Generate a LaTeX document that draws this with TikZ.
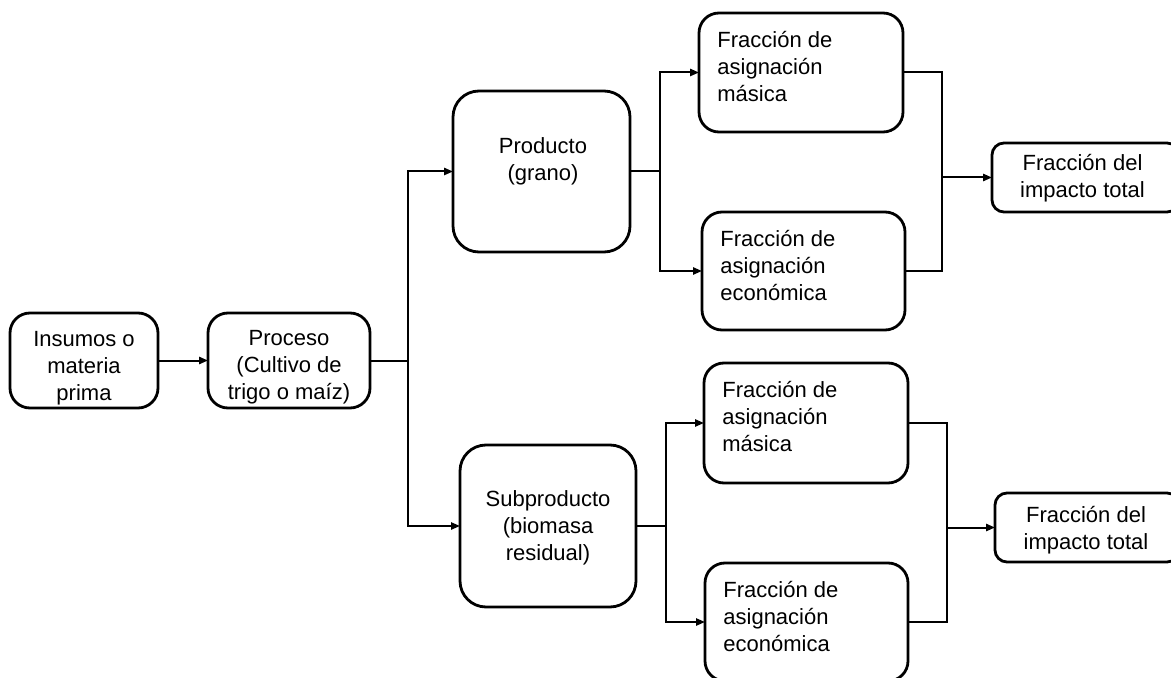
\documentclass[tikz,border=0pt]{standalone}
\usepackage{fontspec}
\setmainfont{Liberation Sans}
\usetikzlibrary{arrows.meta}
\begin{document}
\begin{tikzpicture}[x=0.5pt,y=-0.5pt,
  box/.style={draw,line width=1.4pt,rounded corners=#1,inner sep=0pt,outer sep=0pt,
    font=\fontsize{11}{13.5}\selectfont,align=center},
  box/.default=10pt,
  ltxt/.style={font=\fontsize{11}{13.5}\selectfont,align=left,inner sep=0pt,anchor=north west},
  ctxt/.style={font=\fontsize{11}{13.5}\selectfont,align=center,inner sep=0pt},
  link/.style={line width=1pt},
  arr/.style={link,-{Triangle[length=4.5pt,width=3.6pt]}}]
\useasboundingbox (0,0) rectangle (1171,678);

% main chain
\node[box, minimum width=74pt, minimum height=47.5pt] (ins) at (84,360.5) {};
\node[ctxt] (instxt) at (84,368) {Insumos o\\materia\\prima};
\node[box, minimum width=81pt, minimum height=47.5pt] (proc) at (289,360.5) {};
\node[ctxt] (proctxt) at (289,367) {Proceso\\(Cultivo de\\trigo o maíz)};

% product and by-product
\node[box=13pt, minimum width=88.5pt, minimum height=80.5pt] (prod) at (541.5,171.5) {};
\node[ctxt] (prodtxt) at (543,161) {Producto\\(grano)};
\node[box=13pt, minimum width=88pt, minimum height=81pt] (sub) at (548,526) {};
\node[ctxt] (subtxt) at (548,528) {Subproducto\\(biomasa\\residual)};

% allocation fractions
\newcommand{\fracfirst}{\rule{0pt}{9.5pt}Fracción de}
\node[box, minimum width=102pt, minimum height=59.5pt] (m1) at (801,72.5) {};
\node[box, minimum width=101.5pt, minimum height=59pt] (e1) at (803.5,271) {};
\node[box, minimum width=102pt, minimum height=60pt] (m2) at (806,423) {};
\node[box, minimum width=101.5pt, minimum height=59pt] (e2) at (806.5,622) {};
\node[ltxt] (m1txt) at ([xshift=9pt,yshift=-7.5pt]m1.north west) {\fracfirst\\asignación\\másica};
\node[ltxt] (e1txt) at ([xshift=9pt,yshift=-7.5pt]e1.north west) {\fracfirst\\asignación\\económica};
\node[ltxt] (m2txt) at ([xshift=9pt,yshift=-7.5pt]m2.north west) {\fracfirst\\asignación\\másica};
\node[ltxt] (e2txt) at ([xshift=9pt,yshift=-7.5pt]e2.north west) {\fracfirst\\asignación\\económica};

% total impact (right edges run past the page border)
\node[box=6pt, minimum width=93.5pt, minimum height=34.5pt] (t1) at (1085.5,177.5) {};
\node[ctxt] (t1txt) at (1082.5,178) {Fracción del\\impacto total};
\node[box=6pt, minimum width=92pt, minimum height=34.5pt] (t2) at (1087,527.5) {};
\node[ctxt] (t2txt) at (1086,530) {Fracción del\\impacto total};

% junction points
\coordinate (j1) at (408,360.5);
\coordinate (j2) at (660,171.5);
\coordinate (j3) at (666,526);
\coordinate (k1) at (942,177.5);
\coordinate (k2) at (947,527.5);

% connectors
\draw[arr] (ins) -- (proc);
\draw[arr] (proc.east) -- (j1) |- (prod.west);
\draw[arr] (j1) |- (sub.west);

\draw[link] (prod.east) -- (j2);
\draw[arr] (j2) |- (m1.west);
\draw[arr] (j2) |- (e1.west);
\draw[link] (m1.east) -| (k1);
\draw[link] (e1.east) -| (k1);
\draw[arr] (k1) -- (t1.west);

\draw[link] (sub.east) -- (j3);
\draw[arr] (j3) |- (m2.west);
\draw[arr] (j3) |- (e2.west);
\draw[link] (m2.east) -| (k2);
\draw[link] (e2.east) -| (k2);
\draw[arr] (k2) -- (t2.west);
\end{tikzpicture}
\end{document}
